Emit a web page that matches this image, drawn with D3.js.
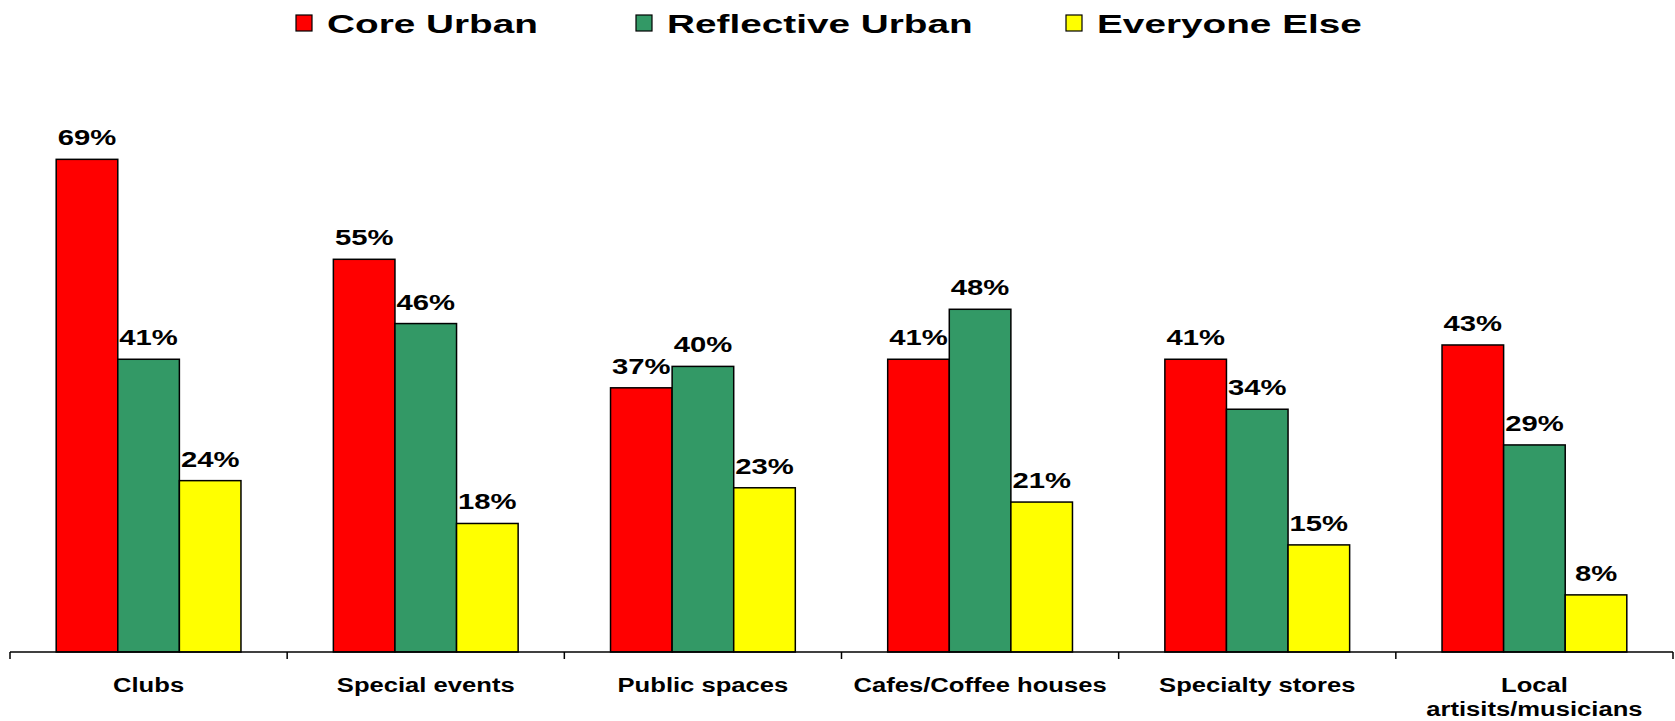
<!DOCTYPE html>
<html>
<head>
<meta charset="utf-8">
<script src="https://cdn.jsdelivr.net/npm/d3@7"></script>
<style>
  html, body { margin: 0; padding: 0; background: #ffffff; }
  svg { display: block; }
  text { font-family: "Liberation Sans", Arial, Helvetica, sans-serif; font-weight: bold; fill: #000; }
</style>
</head>
<body>
<svg id="chart" width="1675" height="721"></svg>
<script>
// Venue categories along the x axis (line breaks marked with \n)
const categories = ["Clubs", "Special events", "Public spaces", "Cafes/Coffee houses", "Specialty stores", "Local\nartisits/musicians"];

// Segments and their fill colours
const seriesNames = ["Core Urban", "Reflective Urban", "Everyone Else"];
const seriesColors = ["#ff0000", "#339966", "#ffff00"];

// Percent of each segment, one value per category
const coreUrban       = [69, 55, 37, 41, 41, 43];
const reflectiveUrban = [41, 46, 40, 48, 34, 29];
const everyoneElse    = [24, 18, 23, 21, 15, 8];

const seriesValues = [coreUrban, reflectiveUrban, everyoneElse];

const svg = d3.select("#chart");

const plotLeft = 10, plotRight = 1673, baseY = 652;

const x = d3.scaleBand().domain(categories).range([plotLeft, plotRight]).paddingInner(0).paddingOuter(0);
const xs = d3.scaleBand().domain(seriesNames).range([0, x.bandwidth()]).paddingInner(0).paddingOuter(0.75);
const y = d3.scaleLinear().domain([0, 80]).range([baseY, baseY - 80 * 7.14]);

// Bars
const rows = categories.map((c, i) => ({ cat: c, vals: seriesNames.map((s, j) => ({ s, j, v: seriesValues[j][i] })) }));

const groups = svg.append("g").selectAll("g").data(rows).join("g")
  .attr("transform", d => `translate(${x(d.cat)},0)`);

groups.selectAll("rect").data(d => d.vals).join("rect")
  .attr("x", d => xs(d.s))
  .attr("y", d => y(d.v))
  .attr("width", xs.bandwidth())
  .attr("height", d => y(0) - y(d.v))
  .attr("fill", d => seriesColors[d.j])
  .attr("stroke", "#000")
  .attr("stroke-width", 1.5);

// Value labels above bars
groups.selectAll("text.val").data(d => d.vals).join("text")
  .attr("class", "val")
  .attr("text-anchor", "middle")
  .attr("font-size", 22.5)
  .attr("transform", d => `translate(${xs(d.s) + xs.bandwidth() / 2},${y(d.v) - 14}) scale(1.3,1)`)
  .text(d => d.v + "%");

// X axis with ticks at band boundaries
const axis = svg.append("g");
axis.append("line")
  .attr("x1", plotLeft).attr("x2", plotRight)
  .attr("y1", baseY).attr("y2", baseY)
  .attr("stroke", "#000").attr("stroke-width", 1.5);

const boundaries = categories.map(c => x(c)).concat([x(categories[categories.length - 1]) + x.bandwidth()]);
axis.selectAll("line.tick").data(boundaries).join("line")
  .attr("class", "tick")
  .attr("x1", d => d).attr("x2", d => d)
  .attr("y1", baseY).attr("y2", baseY + 7)
  .attr("stroke", "#000").attr("stroke-width", 1.5);

// Category labels
const catLabels = axis.selectAll("text.cat").data(categories).join("text")
  .attr("class", "cat")
  .attr("text-anchor", "middle")
  .attr("font-size", 21)
  .attr("transform", d => `translate(${x(d) + x.bandwidth() / 2},692) scale(1.22,1)`);

catLabels.selectAll("tspan").data(d => d.split("\n")).join("tspan")
  .attr("x", 0)
  .attr("dy", (d, i) => i === 0 ? 0 : 24.5)
  .text(d => d);

// Legend
const legendX = [296, 636, 1066];
const legend = svg.append("g").selectAll("g").data(seriesNames).join("g")
  .attr("transform", (d, i) => `translate(${legendX[i]},15)`);

legend.append("rect")
  .attr("width", 16).attr("height", 16)
  .attr("fill", (d, i) => seriesColors[i])
  .attr("stroke", "#000").attr("stroke-width", 1.2);

legend.append("text")
  .attr("font-size", 26)
  .attr("transform", "translate(31,18) scale(1.49,1)")
  .text(d => d);
</script>
</body>
</html>
